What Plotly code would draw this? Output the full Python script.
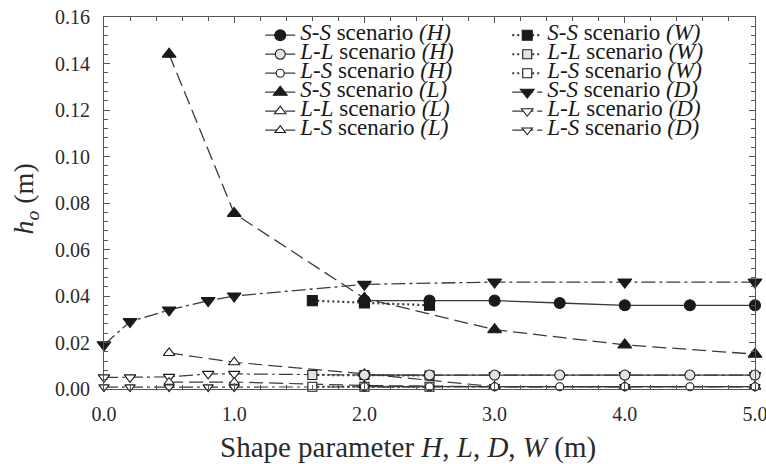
import plotly.graph_objects as go

# ---- data ----
x_H = [2.0, 2.5, 3.0, 3.5, 4.0, 4.5, 5.0]
ss_H = [0.038, 0.038, 0.038, 0.037, 0.036, 0.036, 0.036]
ll_H = [0.006, 0.006, 0.006, 0.006, 0.006, 0.006, 0.006]
ls_H = [0.001, 0.001, 0.001, 0.001, 0.001, 0.001, 0.001]

x_W = [1.6, 2.0, 2.5]
ss_W = [0.038, 0.037, 0.036]
ll_W = [0.006, 0.006, 0.0058]
ls_W = [0.001, 0.001, 0.001]

x_L = [0.5, 1.0, 2.0, 3.0, 4.0, 5.0]
ss_L = [0.144, 0.0755, 0.039, 0.0255, 0.019, 0.015]
ll_L = [0.0155, 0.0115, 0.0065, 0.001, 0.001, 0.001]
ls_L = [0.003, 0.003, 0.0015, 0.001, 0.001, 0.001]

x_D = [0.0, 0.2, 0.5, 0.8, 1.0, 2.0, 3.0, 4.0, 5.0]
ss_D = [0.019, 0.029, 0.034, 0.038, 0.040, 0.045, 0.046, 0.046, 0.046]
ll_D = [0.005, 0.005, 0.0052, 0.0065, 0.0065, 0.006, 0.006, 0.006, 0.006]
ls_D = [0.0008, 0.0008, 0.0008, 0.0008, 0.0008, 0.001, 0.001, 0.001, 0.001]

x_ticks = [0, 1, 2, 3, 4, 5]
y_ticks = [0.00, 0.02, 0.04, 0.06, 0.08, 0.10, 0.12, 0.14, 0.16]

FONT = "Liberation Serif"
LC = "#3a3a3a"
MC = "#1a1a1a"
TXT = "#2a2a2a"

fig = go.Figure()

def label(scen, param):
    return ('<span style="font-size:23px"><i>%s</i> scenario <i>(%s)</i></span>'
            % (scen, param))

def add(x, y, scen, param, dash, width, symbol, size, fill, rank):
    fig.add_trace(go.Scatter(
        x=x, y=y, name=label(scen, param), mode="lines+markers", legendrank=rank,
        line=dict(color=LC, width=width, dash=dash),
        marker=dict(symbol=symbol, size=size, color=fill,
                    line=dict(color=MC, width=1.1)),
        cliponaxis=False,
    ))

DASH_L = "14px,6px"
DASH_D = "14px,4px,3px,4px"
DOT_W = "2px,3px"

# draw order: small ones first, big ones on top
add(x_D, ls_D, "L-S", "D", DASH_D, 1.2, "triangle-down", 9, "white", 12)
add(x_D, ll_D, "L-L", "D", DASH_D, 1.2, "triangle-down", 10, "white", 10)
add(x_L, ls_L, "L-S", "L", DASH_L, 1.2, "triangle-up", 9, "white", 11)
add(x_L, ll_L, "L-L", "L", DASH_L, 1.2, "triangle-up", 10, "white", 9)
add(x_W, ls_W, "L-S", "W", DOT_W, 2.0, "square", 9, "white", 6)
add(x_W, ll_W, "L-L", "W", DOT_W, 2.0, "square", 9, "#e4e4e4", 4)
add(x_H, ls_H, "L-S", "H", "solid", 1.2, "circle", 8, "white", 5)
add(x_H, ll_H, "L-L", "H", "solid", 1.2, "circle", 10, "#e4e4e4", 3)
add(x_D, ss_D, "S-S", "D", DASH_D, 1.3, "triangle-down", 12, MC, 8)
add(x_L, ss_L, "S-S", "L", DASH_L, 1.3, "triangle-up", 12, MC, 7)
add(x_W, ss_W, "S-S", "W", DOT_W, 2.2, "square", 10, MC, 2)
add(x_H, ss_H, "S-S", "H", "solid", 1.3, "circle", 11, MC, 1)

axis_common = dict(
    showline=True, linecolor="#555555", linewidth=1.2, mirror="ticks",
    ticks="inside", ticklen=6, tickwidth=1, tickcolor="#555555",
    showgrid=False, zeroline=False,
    tickfont=dict(family=FONT, size=20, color=TXT),
    ticklabeloverflow="allow",
)

fig.update_xaxes(
    range=[0, 5], tickvals=x_ticks, tickformat=".1f",
    minor=dict(dtick=0.2, ticks="inside", ticklen=3.5, tickcolor="#555555"),
    ticklabelstandoff=7,
    **axis_common,
)
fig.update_yaxes(
    range=[0, 0.16], tickvals=y_ticks, tickformat=".2f",
    minor=dict(dtick=0.004, ticks="inside", ticklen=3.5, tickcolor="#555555"),
    ticklabelstandoff=9,
    **axis_common,
)

fig.add_annotation(
    text="Shape parameter <i>H</i>, <i>L</i>, <i>D</i>, <i>W</i> (m)",
    xref="paper", yref="paper", x=0.467, y=-0.156,
    xanchor="center", yanchor="middle", showarrow=False,
    font=dict(family=FONT, size=29, color=TXT),
)
fig.add_annotation(
    text="<i>h<sub>o</sub></i> (m)",
    xref="paper", yref="paper", x=-0.121, y=0.51, textangle=-90,
    xanchor="center", yanchor="middle", showarrow=False,
    font=dict(family=FONT, size=28, color=TXT),
)

fig.update_layout(
    width=766, height=464,
    margin=dict(l=104, r=11, t=17, b=75, autoexpand=False),
    paper_bgcolor="white", plot_bgcolor="white",
    showlegend=True,
    legend=dict(
        orientation="h", x=0.24, y=0.99, xanchor="left", yanchor="top",
        entrywidth=202, entrywidthmode="pixels",
        bgcolor="rgba(0,0,0,0)", borderwidth=0,
        font=dict(family=FONT, size=11, color="#1a1a1a"),
        traceorder="normal",
    ),
)

fig.write_html("out.html")
